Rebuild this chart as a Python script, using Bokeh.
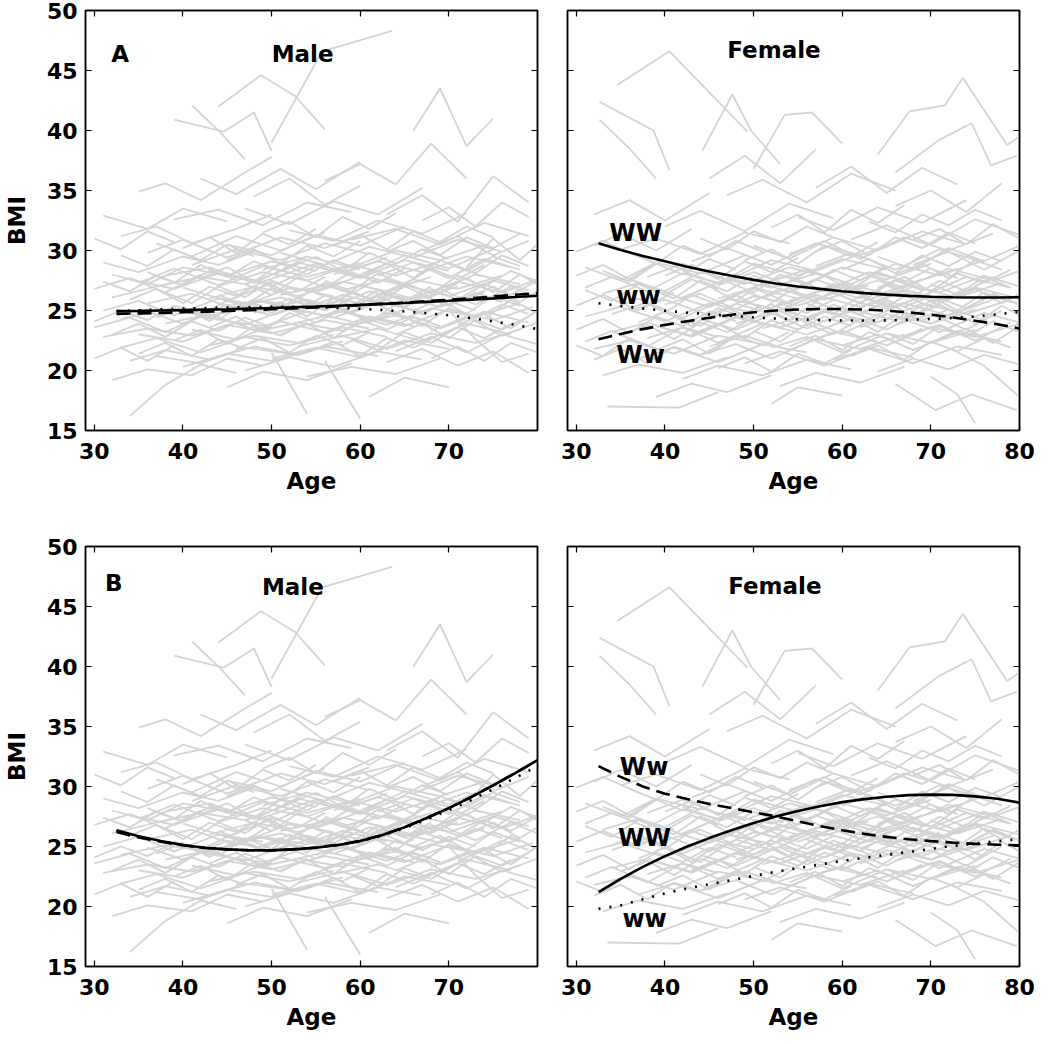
from bokeh.plotting import figure
from bokeh.models import Range1d, LinearAxis, FixedTicker, Label
from bokeh.layouts import column, row
from bokeh.embed import file_html
from bokeh.resources import INLINE

FONT = "DejaVu Sans"

# ---------------- data ----------------
bmi_ticks = [15, 20, 25, 30, 35, 40, 45, 50]
male_age_ticks = [30, 40, 50, 60, 70]
female_age_ticks = [30, 40, 50, 60, 70, 80]

# individual BMI trajectories (age, BMI)
male_trajectories = [
    [(31, 29.0), (35, 28.2), (40, 29.5), (44, 28.8), (48, 29.9)],
    [(31, 22.8), (36, 23.5), (41, 22.9), (46, 24.0), (50, 23.6)],
    [(32, 26.1), (37, 27.0), (42, 27.8), (47, 27.2), (52, 28.5)],
    [(32, 19.2), (36, 20.1), (41, 19.6), (45, 21.0), (49, 20.4)],
    [(33, 24.3), (38, 25.1), (43, 24.6), (49, 25.8), (54, 25.2), (59, 26.0)],
    [(33, 31.2), (37, 32.0), (41, 30.6), (46, 31.8), (50, 33.0)],
    [(34, 16.2), (38, 18.8), (42, 20.5), (46, 19.8)],
    [(34, 27.6), (39, 26.8), (44, 28.1), (49, 27.4), (55, 28.9)],
    [(35, 34.9), (38, 35.6), (42, 34.2), (47, 36.5), (50, 37.8)],
    [(35, 23.0), (40, 22.4), (45, 23.8), (50, 23.1), (56, 24.2), (61, 23.5)],
    [(36, 25.6), (41, 26.4), (46, 25.1), (52, 26.9), (57, 26.2)],
    [(36, 29.8), (40, 30.9), (45, 29.4), (51, 31.1), (56, 30.2), (61, 31.6)],
    [(37, 21.2), (42, 20.6), (47, 21.9), (53, 21.3), (58, 22.4)],
    [(39, 40.9), (44.6, 39.9), (48, 41.5), (50, 38.3)],
    [(41, 42.1), (44, 40.0), (47, 37.6)],
    [(44, 42.0), (48.8, 44.6), (52.6, 42.9), (56, 40.1)],
    [(50, 39.0), (55.7, 46.6), (63.6, 48.3)],
    [(38, 27.9), (43, 28.6), (48, 27.3), (53, 29.0), (58, 28.1), (63, 29.4)],
    [(38, 23.9), (43, 24.7), (48, 23.4), (54, 24.9), (59, 24.1)],
    [(39, 32.6), (44, 33.4), (49, 32.1), (54, 34.0), (59, 33.2)],
    [(40, 26.9), (45, 25.8), (50, 27.3), (55, 26.5), (60, 27.9), (65, 27.1)],
    [(40, 20.3), (45, 21.4), (50, 20.8), (56, 22.0), (62, 21.2)],
    [(41, 28.8), (46, 30.1), (51, 29.2), (56, 30.6), (61, 29.7)],
    [(42, 24.6), (47, 23.8), (52, 25.2), (57, 24.4), (62, 25.7), (67, 24.9)],
    [(42, 36.0), (46, 34.7), (51, 36.8), (55, 35.1), (60, 37.4)],
    [(43, 22.1), (48, 22.9), (53, 22.3), (58, 23.6), (63, 22.8)],
    [(44, 27.0), (49, 28.2), (54, 27.5), (59, 28.8), (64, 27.9), (69, 29.1)],
    [(45, 30.5), (50, 29.6), (55, 31.3), (60, 30.4), (65, 32.0)],
    [(45, 18.6), (49, 19.9), (54, 19.2), (59, 20.6)],
    [(46, 25.3), (51, 26.1), (56, 25.0), (61, 26.6), (66, 25.8), (71, 27.0)],
    [(47, 33.5), (52, 32.2), (57, 34.1), (62, 33.0), (67, 35.2)],
    [(48, 23.2), (53, 24.0), (58, 23.3), (63, 24.8), (68, 24.1)],
    [(49, 28.4), (54, 29.5), (59, 28.6), (64, 30.0), (69, 29.2), (74, 30.4)],
    [(50, 21.0), (55, 21.9), (60, 21.1), (65, 22.5), (70, 21.8)],
    [(51, 26.3), (56, 27.1), (61, 26.0), (66, 27.6), (71, 26.8), (76, 27.9)],
    [(52, 31.7), (57, 30.8), (62, 32.5), (67, 31.4), (72, 33.1)],
    [(53, 24.0), (58, 24.9), (63, 23.8), (68, 25.2), (73, 24.5), (78, 25.6)],
    [(54, 19.5), (59, 20.3), (64, 19.7), (69, 21.0)],
    [(55, 28.9), (60, 27.8), (65, 29.6), (70, 28.5), (75, 30.1)],
    [(56, 35.8), (60, 37.2), (64, 35.5), (68, 38.9), (72, 36.0)],
    [(57, 22.7), (62, 23.5), (67, 22.4), (72, 23.9), (77, 23.0)],
    [(58, 26.7), (63, 27.6), (68, 26.5), (73, 28.0), (78, 27.2)],
    [(59, 30.9), (64, 31.8), (69, 30.5), (74, 32.3), (79, 31.2)],
    [(60, 24.6), (65, 23.7), (70, 25.1), (75, 24.2), (79.5, 25.3)],
    [(61, 17.8), (65, 19.4), (70, 18.6)],
    [(62, 27.9), (66, 29.0), (70, 27.7), (74, 29.3), (78, 28.4)],
    [(63, 33.0), (67, 34.6), (71, 32.4), (75, 36.2), (79, 34.0)],
    [(64, 21.6), (68, 22.8), (72, 21.5), (76, 23.0), (80, 22.2)],
    [(65, 25.9), (69, 26.8), (73, 25.5), (77, 27.0), (80, 26.1)],
    [(66, 40.0), (69, 43.5), (72, 38.7), (75, 41.0)],
    [(67, 30.0), (71, 31.2), (75, 29.6), (79, 30.8)],
    [(68, 23.3), (72, 24.5), (76, 22.9), (80, 24.0)],
    [(32, 28.0), (36, 27.2), (40, 28.6), (45, 27.9), (50, 29.1), (55, 28.3)],
    [(31, 25.0), (35, 25.8), (39, 24.6), (44, 26.0), (49, 25.4)],
    [(33, 21.9), (37, 22.7), (42, 21.5), (47, 22.8), (52, 22.1), (57, 23.0)],
    [(35, 27.3), (39, 28.5), (44, 27.1), (49, 28.7), (54, 27.8), (60, 29.0)],
    [(37, 30.6), (41, 29.5), (46, 31.2), (51, 30.0), (56, 31.5)],
    [(39, 25.2), (43, 24.3), (48, 25.9), (53, 25.0), (58, 26.3), (63, 25.4)],
    [(41, 23.4), (46, 22.6), (51, 24.1), (56, 23.2), (61, 24.5), (66, 23.7)],
    [(43, 26.0), (48, 27.0), (53, 26.2), (58, 27.4), (63, 26.6), (68, 27.8)],
    [(45, 28.1), (50, 27.0), (55, 28.7), (60, 27.7), (65, 29.2), (70, 28.3)],
    [(47, 20.0), (52, 21.1), (57, 20.3), (62, 21.6), (67, 20.9)],
    [(49, 25.0), (54, 25.9), (59, 24.8), (64, 26.2), (69, 25.3), (74, 26.5)],
    [(51, 29.8), (56, 28.8), (61, 30.3), (66, 29.4), (71, 30.9), (76, 29.9)],
    [(53, 22.0), (58, 22.9), (63, 21.8), (68, 23.1), (73, 22.3), (78, 23.4)],
    [(55, 26.4), (60, 25.6), (65, 27.1), (70, 26.2), (75, 27.5), (79, 26.7)],
    [(57, 28.0), (62, 29.1), (67, 28.2), (72, 29.5), (77, 28.6)],
    [(59, 23.8), (64, 24.6), (69, 23.5), (74, 24.9), (79, 24.0)],
    [(61, 26.9), (66, 26.0), (71, 27.4), (76, 26.5), (80, 27.6)],
    [(63, 20.7), (67, 21.8), (71, 20.4), (75, 21.6), (79, 19.8)],
    [(30, 23.6), (34, 24.4), (38, 23.2), (43, 24.8)],
    [(30, 26.8), (34, 27.7), (38, 26.5), (42, 28.0)],
    [(31, 32.9), (36, 31.8), (40, 33.5), (45, 32.4)],
    [(34, 20.8), (38, 21.7), (43, 20.9), (48, 22.0), (53, 21.3)],
    [(36, 24.9), (40, 23.9), (45, 25.5), (50, 24.6), (55, 25.8)],
    [(48, 34.5), (52, 36.0), (56, 33.8), (60, 35.4)],
    [(50, 21.5), (54, 16.4)],
    [(56, 20.8), (60, 16.0)],
    [(70, 25.0), (73, 22.6), (76, 20.7), (79, 21.4)],
    [(72, 28.6), (75, 31.0), (78, 29.2), (80, 30.5)],
    [(74, 24.3), (77, 25.9), (80, 24.8)],
    [(30, 24.1), (33, 25.0), (36, 24.2), (39, 25.4), (42, 24.7), (45, 25.8), (48, 25.1)],
    [(31, 27.4), (34, 26.6), (37, 27.9), (40, 27.1), (43, 28.3), (46, 27.6)],
    [(32, 23.0), (35, 23.9), (38, 22.8), (41, 24.1), (44, 23.3), (47, 24.4), (50, 23.6)],
    [(33, 29.6), (36, 28.7), (39, 30.1), (42, 29.2), (45, 30.5), (48, 29.5)],
    [(34, 25.9), (37, 26.8), (40, 25.6), (43, 27.0), (46, 26.2), (49, 27.4), (52, 26.5)],
    [(35, 21.4), (38, 22.3), (41, 21.2), (44, 22.6), (47, 21.8)],
    [(36, 28.2), (39, 27.3), (42, 28.8), (45, 27.8), (48, 29.1), (51, 28.3), (54, 29.5)],
    [(37, 24.4), (40, 25.3), (43, 24.1), (46, 25.6), (49, 24.8), (52, 26.0), (55, 25.2)],
    [(38, 26.5), (41, 25.6), (44, 27.0), (47, 26.1), (50, 27.5), (53, 26.6), (56, 27.8)],
    [(39, 22.5), (42, 23.4), (45, 22.2), (48, 23.7), (51, 22.9), (54, 24.0)],
    [(40, 30.2), (43, 31.1), (46, 29.8), (49, 31.4), (52, 30.5), (55, 31.8)],
    [(41, 25.1), (44, 24.2), (47, 25.7), (50, 24.8), (53, 26.1), (56, 25.3), (59, 26.4)],
    [(42, 27.7), (45, 28.6), (48, 27.4), (51, 28.9), (54, 28.0), (57, 29.2), (60, 28.4)],
    [(43, 23.6), (46, 24.5), (49, 23.3), (52, 24.8), (55, 24.0), (58, 25.1), (61, 24.3)],
    [(44, 26.3), (47, 25.4), (50, 26.9), (53, 26.0), (56, 27.3), (59, 26.4), (62, 27.6)],
    [(45, 29.2), (48, 30.1), (51, 28.9), (54, 30.4), (57, 29.5), (60, 30.8)],
    [(46, 21.8), (49, 22.7), (52, 21.5), (55, 22.9), (58, 22.1), (61, 23.2)],
    [(47, 27.2), (50, 26.3), (53, 27.8), (56, 26.9), (59, 28.2), (62, 27.3), (65, 28.5)],
    [(48, 24.8), (51, 25.7), (54, 24.5), (57, 26.0), (60, 25.2), (63, 26.3), (66, 25.5)],
    [(49, 31.5), (52, 32.4), (55, 31.1), (58, 32.8), (61, 31.8), (64, 33.1)],
    [(50, 25.7), (53, 24.8), (56, 26.3), (59, 25.4), (62, 26.7), (65, 25.8), (68, 27.0)],
    [(51, 23.0), (54, 23.9), (57, 22.7), (60, 24.2), (63, 23.4), (66, 24.5), (69, 23.7)],
    [(52, 28.6), (55, 29.5), (58, 28.3), (61, 29.8), (64, 28.9), (67, 30.1), (70, 29.3)],
    [(53, 26.0), (56, 25.1), (59, 26.6), (62, 25.7), (65, 27.0), (68, 26.1), (71, 27.3)],
    [(54, 21.5), (57, 22.4), (60, 21.2), (63, 22.7), (66, 21.9), (69, 23.0)],
    [(55, 24.3), (58, 25.2), (61, 24.0), (64, 25.5), (67, 24.7), (70, 25.8), (73, 25.0)],
    [(56, 27.5), (59, 26.6), (62, 28.1), (65, 27.2), (68, 28.5), (71, 27.6), (74, 28.8)],
    [(57, 30.4), (60, 31.3), (63, 30.1), (66, 31.6), (69, 30.7), (72, 32.0), (75, 31.1)],
    [(58, 25.0), (61, 25.9), (64, 24.7), (67, 26.2), (70, 25.4), (73, 26.5), (76, 25.7)],
    [(59, 22.6), (62, 21.7), (65, 23.2), (68, 22.3), (71, 23.6), (74, 22.7), (77, 23.9)],
    [(60, 28.0), (63, 28.9), (66, 27.7), (69, 29.2), (72, 28.3), (75, 29.5), (78, 28.7)],
    [(61, 24.0), (64, 24.9), (67, 23.7), (70, 25.2), (73, 24.4), (76, 25.5), (79, 24.7)],
    [(62, 26.2), (65, 25.3), (68, 26.8), (71, 25.9), (74, 27.2), (77, 26.3), (80, 27.5)],
    [(63, 29.9), (66, 30.8), (69, 29.6), (72, 31.1), (75, 30.2), (78, 31.4)],
    [(64, 23.0), (67, 23.9), (70, 22.7), (73, 24.2), (76, 23.4), (79, 24.5)],
    [(65, 27.3), (68, 26.4), (71, 27.9), (74, 27.0), (77, 28.3), (80, 27.4)],
    [(66, 25.0), (69, 25.9), (72, 24.7), (75, 26.2), (78, 25.4)],
    [(67, 32.5), (70, 33.6), (73, 32.0), (76, 34.0), (79, 32.8)],
    [(68, 21.0), (71, 22.0), (74, 20.8), (77, 22.3), (80, 21.5)],
    [(69, 26.8), (72, 27.7), (75, 26.5), (78, 28.0), (80, 27.2)],
    [(70, 29.0), (73, 28.1), (76, 29.6), (79, 28.7)],
    [(71, 23.8), (74, 24.7), (77, 23.5), (80, 25.0)],
    [(72, 26.0), (75, 27.0), (78, 25.7), (80, 26.6)],
    [(30, 21.0), (33, 21.9), (36, 20.8), (39, 22.1)],
    [(30, 31.0), (33, 30.1), (36, 31.6), (39, 30.7)],
]

female_trajectories = [
    [(32.6, 42.4), (38.7, 40.0), (40.5, 36.7)],
    [(34.6, 43.8), (40.5, 46.6), (49.3, 39.9)],
    [(32.6, 40.9), (36, 38.5), (39, 36.0)],
    [(44.2, 38.3), (47.6, 43.0), (49.7, 40.0), (53, 37.2)],
    [(50, 36.8), (53.5, 41.3), (56.6, 41.5), (60, 38.9)],
    [(64, 38.0), (67.6, 41.6), (71.6, 42.1), (73.6, 44.4), (78.6, 38.8), (80, 39.5)],
    [(66, 36.5), (70.9, 39.2), (74.6, 40.6), (76.8, 37.1), (79.7, 37.9)],
    [(33.5, 17.0), (41.6, 16.9), (46, 18.2)],
    [(66, 18.9), (70.5, 16.7), (74.6, 18.0), (79.7, 16.7)],
    [(31, 24.5), (35, 25.3), (40, 24.1), (45, 25.6), (50, 24.8)],
    [(31, 28.6), (35, 27.5), (39, 29.0), (44, 28.1), (49, 29.6)],
    [(32, 21.8), (36, 22.5), (41, 21.4), (46, 22.9), (51, 22.2)],
    [(32, 33.0), (36, 34.2), (40, 32.5), (45, 34.8)],
    [(33, 26.4), (37, 27.3), (42, 26.0), (47, 27.7), (52, 26.9), (57, 28.1)],
    [(33, 19.6), (37, 20.5), (42, 19.8), (47, 21.1)],
    [(34, 23.2), (38, 24.0), (43, 22.8), (48, 24.4), (53, 23.6), (58, 24.9)],
    [(35, 30.1), (39, 31.0), (44, 29.7), (49, 31.5), (54, 30.6)],
    [(36, 25.0), (40, 25.9), (45, 24.6), (50, 26.2), (55, 25.4), (60, 26.7)],
    [(37, 21.0), (41, 21.9), (46, 20.7), (51, 22.2), (56, 21.5)],
    [(38, 27.8), (42, 28.9), (47, 27.5), (52, 29.2), (57, 28.3), (62, 29.7)],
    [(39, 23.7), (43, 22.9), (48, 24.5), (53, 23.6), (58, 25.0), (63, 24.1)],
    [(40, 32.0), (44, 33.3), (49, 31.6), (54, 33.9), (59, 32.7)],
    [(41, 26.2), (45, 25.3), (50, 26.9), (55, 26.0), (60, 27.3), (65, 26.4)],
    [(42, 19.3), (46, 20.4), (51, 19.6), (56, 20.9), (61, 20.1)],
    [(43, 29.1), (47, 30.2), (52, 28.8), (57, 30.6), (62, 29.6), (67, 31.0)],
    [(44, 24.3), (48, 23.4), (53, 25.0), (58, 24.1), (63, 25.5), (68, 24.6)],
    [(45, 22.0), (49, 22.9), (54, 21.7), (59, 23.2), (64, 22.4)],
    [(46, 27.1), (50, 28.2), (55, 26.8), (60, 28.6), (65, 27.6), (70, 28.9)],
    [(47, 34.6), (51, 35.9), (56, 34.0), (61, 36.4), (66, 35.0)],
    [(48, 25.6), (52, 24.7), (57, 26.3), (62, 25.3), (67, 26.7), (72, 25.8)],
    [(49, 20.6), (53, 21.6), (58, 20.4), (63, 21.9), (68, 21.1)],
    [(50, 30.4), (54, 29.3), (59, 31.1), (64, 30.0), (69, 31.6), (74, 30.5)],
    [(51, 23.5), (55, 24.4), (60, 23.1), (65, 24.7), (70, 23.9), (75, 25.1)],
    [(52, 27.5), (56, 28.4), (61, 27.2), (66, 28.9), (71, 27.9), (76, 29.2)],
    [(53, 18.7), (57, 19.8), (62, 19.0), (67, 20.3)],
    [(54, 25.8), (58, 26.7), (63, 25.4), (68, 27.0), (73, 26.1), (78, 27.3)],
    [(55, 32.8), (59, 31.7), (64, 33.6), (69, 32.3), (74, 34.2)],
    [(56, 22.4), (60, 23.3), (65, 22.1), (70, 23.6), (75, 22.8), (80, 23.9)],
    [(57, 28.7), (61, 29.8), (66, 28.4), (71, 30.1), (76, 29.0)],
    [(58, 24.9), (62, 24.0), (67, 25.6), (72, 24.6), (77, 25.9)],
    [(59, 20.9), (63, 21.8), (68, 20.6), (73, 22.0), (78, 21.3)],
    [(60, 26.6), (64, 27.5), (69, 26.2), (74, 27.8), (79, 26.9)],
    [(61, 30.9), (65, 32.1), (70, 30.5), (75, 32.6), (80, 31.3)],
    [(62, 23.6), (66, 24.5), (71, 23.2), (76, 24.8), (80, 24.0)],
    [(63, 27.9), (67, 26.9), (72, 28.5), (77, 27.5), (80, 28.3)],
    [(64, 19.9), (68, 21.0), (72, 20.1), (76, 21.3), (80, 20.5)],
    [(65, 25.2), (69, 26.1), (73, 24.8), (77, 26.4), (80, 25.5)],
    [(66, 33.7), (70, 35.0), (74, 33.2), (78, 35.6)],
    [(67, 22.9), (71, 23.8), (75, 22.5), (79, 24.0)],
    [(68, 28.8), (72, 29.9), (76, 28.4), (80, 30.0)],
    [(31, 26.9), (34, 27.8), (38, 26.6), (42, 28.1), (46, 27.3)],
    [(31, 22.4), (34, 23.3), (38, 22.0), (42, 23.6), (46, 22.8)],
    [(32, 30.4), (35, 31.4), (39, 30.0), (43, 31.8)],
    [(34, 24.7), (38, 25.7), (42, 24.4), (47, 26.0), (52, 25.2), (57, 26.5)],
    [(36, 27.6), (40, 26.6), (44, 28.2), (49, 27.2), (54, 28.6), (59, 27.7)],
    [(38, 22.7), (42, 23.6), (46, 22.3), (51, 23.9), (56, 23.0), (61, 24.3)],
    [(40, 25.5), (44, 26.4), (48, 25.1), (53, 26.8), (58, 25.9), (63, 27.1)],
    [(42, 28.3), (46, 27.2), (50, 28.9), (55, 27.9), (60, 29.3), (65, 28.4)],
    [(44, 21.3), (48, 22.2), (52, 21.0), (57, 22.6), (62, 21.8), (67, 23.0)],
    [(46, 26.0), (50, 26.9), (54, 25.6), (59, 27.2), (64, 26.3), (69, 27.6)],
    [(48, 23.9), (52, 24.8), (56, 23.5), (61, 25.1), (66, 24.2), (71, 25.4)],
    [(50, 27.0), (54, 27.9), (58, 26.6), (63, 28.2), (68, 27.3), (73, 28.5)],
    [(52, 21.9), (56, 22.8), (60, 21.5), (65, 23.1), (70, 22.3), (75, 23.4)],
    [(54, 29.7), (58, 30.8), (62, 29.3), (67, 31.1), (72, 30.0), (77, 31.4)],
    [(56, 24.4), (60, 25.3), (64, 24.0), (69, 25.6), (74, 24.7), (79, 25.9)],
    [(58, 26.9), (62, 26.0), (66, 27.5), (71, 26.5), (76, 27.9), (80, 27.0)],
    [(60, 22.1), (64, 23.0), (68, 21.7), (73, 23.3), (78, 22.4)],
    [(62, 25.7), (66, 26.6), (70, 25.3), (75, 26.9), (80, 26.0)],
    [(64, 29.5), (68, 28.4), (72, 30.2), (76, 29.1), (80, 30.4)],
    [(66, 23.8), (70, 24.7), (74, 23.4), (78, 25.0)],
    [(30, 29.9), (33, 30.8), (37, 29.5)],
    [(30, 25.4), (33, 26.3), (37, 25.0), (41, 26.5)],
    [(39, 17.8), (43, 18.9), (47, 18.2), (52, 19.6)],
    [(52, 17.2), (55, 18.6), (60, 17.9)],
    [(70, 19.5), (73, 18.0), (75, 15.6)],
    [(72, 21.9), (76, 20.4), (80, 17.8)],
    [(45, 36.0), (49, 37.9), (53, 35.6), (57, 38.4)],
    [(57, 35.2), (61, 37.0), (65, 34.8), (69, 36.9), (73, 35.5)],
    [(30, 23.4), (33, 24.3), (36, 23.1), (39, 24.5), (42, 23.7), (45, 24.9), (48, 24.1)],
    [(31, 26.7), (34, 25.8), (37, 27.2), (40, 26.3), (43, 27.6), (46, 26.8)],
    [(32, 20.9), (35, 21.8), (38, 20.6), (41, 22.0), (44, 21.3), (47, 22.4)],
    [(33, 28.3), (36, 27.4), (39, 28.9), (42, 28.0), (45, 29.3), (48, 28.4)],
    [(34, 25.1), (37, 26.0), (40, 24.8), (43, 26.3), (46, 25.5), (49, 26.6), (52, 25.8)],
    [(35, 22.9), (38, 23.8), (41, 22.6), (44, 24.0), (47, 23.2), (50, 24.4)],
    [(36, 29.8), (39, 28.9), (42, 30.4), (45, 29.5), (48, 30.8), (51, 29.9)],
    [(37, 24.0), (40, 24.9), (43, 23.7), (46, 25.2), (49, 24.4), (52, 25.5), (55, 24.7)],
    [(38, 26.9), (41, 26.0), (44, 27.5), (47, 26.6), (50, 27.9), (53, 27.0), (56, 28.2)],
    [(39, 21.7), (42, 22.6), (45, 21.4), (48, 22.9), (51, 22.1), (54, 23.2)],
    [(40, 27.9), (43, 28.8), (46, 27.6), (49, 29.1), (52, 28.2), (55, 29.4)],
    [(41, 24.6), (44, 23.7), (47, 25.2), (50, 24.3), (53, 25.6), (56, 24.8), (59, 25.9)],
    [(42, 26.1), (45, 27.0), (48, 25.8), (51, 27.3), (54, 26.5), (57, 27.6), (60, 26.8)],
    [(43, 23.0), (46, 23.9), (49, 22.7), (52, 24.2), (55, 23.4), (58, 24.5), (61, 23.7)],
    [(44, 31.0), (47, 30.1), (50, 31.6), (53, 30.7), (56, 32.0), (59, 31.1)],
    [(45, 25.4), (48, 26.3), (51, 25.1), (54, 26.6), (57, 25.8), (60, 26.9), (63, 26.1)],
    [(46, 20.2), (49, 21.1), (52, 19.9), (55, 21.4), (58, 20.6), (61, 21.7)],
    [(47, 27.4), (50, 26.5), (53, 28.0), (56, 27.1), (59, 28.4), (62, 27.5), (65, 28.7)],
    [(48, 24.5), (51, 25.4), (54, 24.2), (57, 25.7), (60, 24.9), (63, 26.0), (66, 25.2)],
    [(49, 29.2), (52, 30.1), (55, 28.9), (58, 30.4), (61, 29.5), (64, 30.7)],
    [(50, 23.3), (53, 22.4), (56, 23.9), (59, 23.0), (62, 24.3), (65, 23.4), (68, 24.6)],
    [(51, 26.0), (54, 26.9), (57, 25.7), (60, 27.2), (63, 26.4), (66, 27.5), (69, 26.7)],
    [(52, 31.9), (55, 33.0), (58, 31.5), (61, 33.4), (64, 32.3), (67, 33.8)],
    [(53, 24.9), (56, 24.0), (59, 25.5), (62, 24.6), (65, 25.9), (68, 25.0), (71, 26.2)],
    [(54, 22.0), (57, 22.9), (60, 21.7), (63, 23.2), (66, 22.4), (69, 23.5)],
    [(55, 27.0), (58, 27.9), (61, 26.7), (64, 28.2), (67, 27.4), (70, 28.5), (73, 27.7)],
    [(56, 25.6), (59, 24.7), (62, 26.2), (65, 25.3), (68, 26.6), (71, 25.7), (74, 26.9)],
    [(57, 29.9), (60, 30.8), (63, 29.6), (66, 31.1), (69, 30.2), (72, 31.5), (75, 30.6)],
    [(58, 23.5), (61, 24.4), (64, 23.2), (67, 24.7), (70, 23.9), (73, 25.0), (76, 24.2)],
    [(59, 26.5), (62, 25.6), (65, 27.1), (68, 26.2), (71, 27.5), (74, 26.6), (77, 27.8)],
    [(60, 28.4), (63, 29.3), (66, 28.1), (69, 29.6), (72, 28.7), (75, 29.9), (78, 29.1)],
    [(61, 21.2), (64, 22.1), (67, 20.9), (70, 22.4), (73, 21.6), (76, 22.7), (79, 21.9)],
    [(62, 24.8), (65, 25.7), (68, 24.5), (71, 26.0), (74, 25.2), (77, 26.3), (80, 25.5)],
    [(63, 32.4), (66, 31.5), (69, 33.0), (72, 32.1), (75, 33.4), (78, 32.5)],
    [(64, 26.9), (67, 27.8), (70, 26.6), (73, 28.1), (76, 27.3), (79, 28.4)],
    [(65, 23.1), (68, 22.2), (71, 23.7), (74, 22.8), (77, 24.1), (80, 23.2)],
    [(66, 28.0), (69, 28.9), (72, 27.7), (75, 29.2), (78, 28.4)],
    [(67, 25.3), (70, 26.2), (73, 25.0), (76, 26.5), (79, 25.7)],
    [(68, 30.9), (71, 31.8), (74, 30.5), (77, 32.2), (80, 31.0)],
    [(69, 24.2), (72, 25.1), (75, 23.9), (78, 25.4), (80, 24.6)],
    [(70, 27.2), (73, 26.3), (76, 27.8), (79, 26.9)],
    [(71, 22.6), (74, 23.5), (77, 22.3), (80, 23.7)],
    [(72, 25.9), (75, 26.8), (78, 25.6), (80, 26.4)],
    [(30, 27.9), (33, 28.8), (36, 27.6), (39, 29.0)],
    [(30, 22.1), (33, 21.2), (36, 22.7), (39, 21.8)],
]

# fitted mean curves (ages and BMI), by genotype: WW solid, Ww dashed, ww dotted
fit_age = [32.5, 35, 37.5, 40, 42.5, 45, 47.5, 50, 52.5, 55,
           57.5, 60, 62.5, 65, 67.5, 70, 72.5, 75, 77.5, 80]

male_a_WW = [24.95, 24.97, 25.0, 25.03, 25.07, 25.11, 25.16, 25.21, 25.27, 25.33,
             25.40, 25.47, 25.55, 25.63, 25.72, 25.81, 25.91, 26.01, 26.12, 26.23]
male_a_Ww = [24.72, 24.76, 24.80, 24.85, 24.90, 24.96, 25.03, 25.10, 25.18, 25.26,
             25.35, 25.45, 25.55, 25.66, 25.78, 25.90, 26.03, 26.17, 26.31, 26.46]
male_a_ww = [24.95, 25.02, 25.09, 25.15, 25.20, 25.25, 25.28, 25.30, 25.30, 25.27,
             25.22, 25.14, 25.04, 24.92, 24.77, 24.60, 24.37, 24.10, 23.80, 23.45]

female_a_WW = [30.6, 30.05, 29.55, 29.1, 28.65, 28.25, 27.9, 27.55, 27.25, 27.0,
               26.8, 26.6, 26.45, 26.32, 26.22, 26.15, 26.1, 26.08, 26.08, 26.1]
female_a_Ww = [22.6, 23.05, 23.45, 23.8, 24.1, 24.4, 24.65, 24.85, 25.0, 25.08,
               25.12, 25.12, 25.08, 24.98, 24.84, 24.65, 24.42, 24.15, 23.85, 23.5]
female_a_ww = [25.6, 25.38, 25.17, 24.98, 24.82, 24.68, 24.55, 24.43, 24.33, 24.26,
               24.2, 24.17, 24.16, 24.18, 24.22, 24.29, 24.38, 24.5, 24.68, 24.9]

male_b_WW = [26.35, 25.85, 25.45, 25.12, 24.9, 24.76, 24.69, 24.68, 24.76, 24.9,
             25.12, 25.45, 25.95, 26.6, 27.38, 28.2, 29.12, 30.1, 31.12, 32.2]
male_b_Ww = [26.2, 25.75, 25.4, 25.1, 24.88, 24.75, 24.69, 24.68, 24.77, 24.92,
             25.14, 25.47, 25.96, 26.6, 27.38, 28.2, 29.12, 30.1, 31.12, 32.2]
male_b_ww = [26.3, 25.8, 25.42, 25.1, 24.88, 24.75, 24.69, 24.68, 24.76, 24.9,
             25.12, 25.44, 25.92, 26.52, 27.25, 28.02, 28.87, 29.77, 30.72, 31.7]

female_b_WW = [21.2, 22.3, 23.3, 24.2, 25.0, 25.7, 26.35, 26.95, 27.5, 27.95,
               28.35, 28.7, 28.95, 29.15, 29.28, 29.32, 29.3, 29.18, 28.98, 28.65]
female_b_Ww = [31.7, 30.8, 30.0, 29.4, 28.95, 28.55, 28.2, 27.85, 27.5, 27.1,
               26.7, 26.35, 26.05, 25.8, 25.6, 25.45, 25.32, 25.22, 25.15, 25.1]
female_b_ww = [19.8, 20.1, 20.6, 21.1, 21.5, 21.85, 22.2, 22.55, 22.9, 23.2,
               23.5, 23.8, 24.05, 24.3, 24.55, 24.8, 25.05, 25.25, 25.45, 25.6]

# ---------------- drawing ----------------
GRAY = "#d3d3d3"
DASHES = {"WW": "solid", "Ww": "14 7", "ww": "2 9"}


def style_axis(ax, show_labels):
    ax.axis_line_color = "black"
    ax.axis_line_width = 1.5
    ax.major_tick_in = 6
    ax.major_tick_out = 0
    ax.minor_tick_in = 0
    ax.minor_tick_out = 0
    ax.major_tick_line_color = "black"
    ax.major_tick_line_width = 1.2
    ax.major_label_text_font = FONT
    ax.major_label_text_font_style = "bold"
    if show_labels:
        ax.major_label_text_color = "black"
        ax.major_label_text_font_size = "22px"
        ax.major_label_standoff = 12
    else:
        ax.major_label_text_color = None
        ax.major_label_text_font_size = "1px"
        ax.major_label_standoff = 0
    ax.axis_label_text_font = FONT
    ax.axis_label_text_font_style = "bold"
    ax.axis_label_text_font_size = "23px"
    ax.axis_label_text_color = "black"
    ax.axis_label_standoff = 6


def make_panel(trajs, curves, xticks, is_male, top_border, labels):
    p = figure(frame_width=452, frame_height=420,
               x_range=Range1d(29, 80), y_range=Range1d(15, 50),
               output_backend="svg", toolbar_location=None,
               min_border_top=top_border, min_border_bottom=5,
               min_border_left=10 if is_male else 15,
               min_border_right=15 if is_male else 16)
    p.xgrid.visible = False
    p.ygrid.visible = False
    p.outline_line_color = "black"
    p.outline_line_width = 1.5
    p.background_fill_color = "white"
    p.border_fill_color = "white"

    bottom = p.below[0]
    left = p.left[0]
    bottom.ticker = FixedTicker(ticks=xticks)
    left.ticker = FixedTicker(ticks=bmi_ticks)
    style_axis(bottom, True)
    bottom.axis_label = "Age"
    style_axis(left, is_male)
    if is_male:
        left.major_label_standoff = 8
        left.axis_label = "BMI"
        left.axis_label_standoff = 14

    top = LinearAxis(ticker=FixedTicker(ticks=xticks))
    style_axis(top, False)
    p.add_layout(top, "above")
    right = LinearAxis(ticker=FixedTicker(ticks=bmi_ticks))
    style_axis(right, False)
    p.add_layout(right, "right")

    xs = [[a for a, b in t] for t in trajs]
    ys = [[b for a, b in t] for t in trajs]
    p.multi_line(xs, ys, line_color=GRAY, line_width=1.8)

    for key, vals in curves:
        p.line(fit_age, vals, line_color="black", line_width=2.6,
               line_dash=DASHES[key])

    for (txt, x, y, size, align) in labels:
        p.add_layout(Label(x=x, y=y, text=txt, text_font=FONT,
                           text_font_style="bold", text_font_size=size,
                           text_color="black", text_align=align,
                           text_baseline="alphabetic"))
    return p


pA_m = make_panel(male_trajectories,
                  [("WW", male_a_WW), ("Ww", male_a_Ww), ("ww", male_a_ww)],
                  male_age_ticks, True, 10,
                  [("A", 31.9, 46.4, "23px", "left"),
                   ("Male", 53.5, 46.4, "23px", "center")])
pA_f = make_panel(female_trajectories,
                  [("WW", female_a_WW), ("Ww", female_a_Ww), ("ww", female_a_ww)],
                  female_age_ticks, False, 10,
                  [("Female", 52.3, 46.7, "23px", "center"),
                   ("WW", 33.7, 31.5, "24px", "left"),
                   ("ww", 34.5, 26.2, "24px", "left"),
                   ("Ww", 34.5, 21.3, "24px", "left")])
pB_m = make_panel(male_trajectories,
                  [("WW", male_b_WW), ("Ww", male_b_Ww), ("ww", male_b_ww)],
                  male_age_ticks, True, 50,
                  [("B", 31.2, 47.0, "23px", "left"),
                   ("Male", 52.4, 46.6, "23px", "center")])
pB_f = make_panel(female_trajectories,
                  [("WW", female_b_WW), ("Ww", female_b_Ww), ("ww", female_b_ww)],
                  female_age_ticks, False, 50,
                  [("Female", 52.4, 46.7, "23px", "center"),
                   ("Ww", 34.9, 31.6, "24px", "left"),
                   ("WW", 34.7, 25.7, "24px", "left"),
                   ("ww", 35.2, 19.0, "24px", "left")])

layout = column(row(pA_m, pA_f), row(pB_m, pB_f))

open("out.html", "w").write(file_html(layout, INLINE))
